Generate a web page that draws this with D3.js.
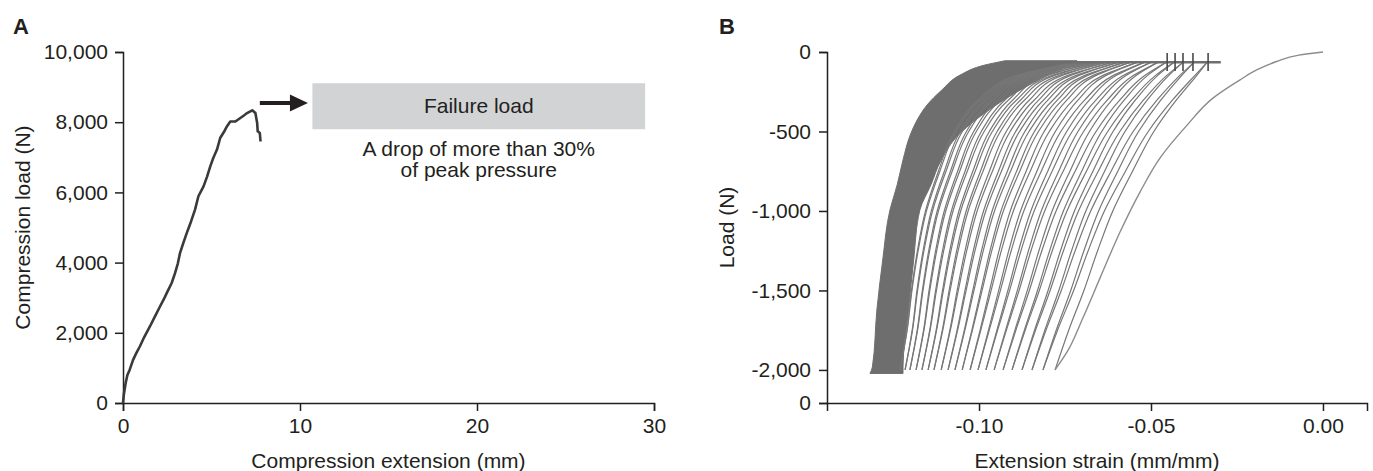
<!DOCTYPE html>
<html>
<head>
<meta charset="utf-8">
<script src="https://cdn.jsdelivr.net/npm/d3@7"></script>
<style>
	body { margin: 0; background: #fff; }
	svg text { font-family: "Liberation Sans", Arial, Helvetica, sans-serif; fill: #231f20; }
</style>
</head>
<body>
<div id="chart"></div>
<script>
const w = 1373;
const h = 471;

// ---- panel A : static compression test ----
const extensionMm = [0, 0.05, 0.15, 0.25, 0.38, 0.57, 0.75, 0.95, 1.2, 1.52,
	1.8, 2.09, 2.3, 2.47, 2.75, 2.94, 3.1, 3.22, 3.4, 3.6,
	3.85, 4.07, 4.26, 4.55, 4.75, 4.93, 5.1, 5.31, 5.49, 5.7,
	5.87, 6.06, 6.35, 6.63, 6.85, 7.01, 7.3, 7.48, 7.58, 7.61,
	7.73, 7.77];
const compressionN = [0, 250, 570, 800, 950, 1230, 1420, 1610, 1880, 2180,
	2460, 2750, 2950, 3130, 3420, 3700, 3980, 4270, 4550, 4840,
	5180, 5510, 5890, 6170, 6450, 6740, 6980, 7220, 7550, 7720,
	7880, 8020, 8020, 8120, 8200, 8260, 8340, 8260, 7980, 7740,
	7690, 7450];
const xTicksA = [0, 10, 20, 30];
const yTicksA = [0, 2000, 4000, 6000, 8000, 10000];
const boxLabel = "Failure load";
const noteLines = ["A drop of more than 30%", "of peak pressure"];

// ---- panel B : cyclic test ----
const firstLoadStrain = [0, -0.007, -0.0135, -0.019, -0.0241, -0.032, -0.0395, -0.0474,
	-0.0532, -0.059, -0.0648, -0.0698, -0.0744, -0.0779];
const firstLoadN = [0, -20, -60, -110, -175, -290, -460, -667,
	-881, -1132, -1421, -1673, -1887, -2000];

// strain where each cycle hits -2,000 N and where it comes back near the top
const cycleBottom = [-0.0779, -0.0814, -0.0846, -0.0875, -0.0904, -0.093, -0.0956,
	-0.098, -0.1003, -0.1026, -0.1049, -0.107, -0.109, -0.111,
	-0.1131, -0.1148, -0.1166, -0.1183, -0.1201, -0.1215, -0.123];
const cycleTop = [-0.0337, -0.0375, -0.0407, -0.0433, -0.0456, -0.048, -0.05,
	-0.052, -0.0541, -0.0561, -0.0578, -0.0596, -0.0613, -0.0631,
	-0.0645, -0.066, -0.0674, -0.0686, -0.0698, -0.0709, -0.0721];
// how much each cycle bends (0 = like right curves, 1 = like left envelope)
const cycleBow = [0, 0.05, 0.1, 0.15, 0.2, 0.27, 0.34, 0.41, 0.48, 0.55, 0.6,
	0.65, 0.7, 0.75, 0.8, 0.84, 0.88, 0.92, 0.95, 0.98, 1];

// curve shape of one cycle
const shapeLoadN = [-2000, -1750, -1500, -1250, -1000, -750, -500, -300, -150, -65];
const shapeRight = [0, 0.09, 0.19, 0.28, 0.38, 0.51, 0.65, 0.8, 0.93, 1];
const shapeLeft = [0, 0.04, 0.066, 0.1, 0.146, 0.22, 0.31, 0.45, 0.66, 1];

// solid dark band on the left: left and right edge at each load
const bandN = [-55, -82, -145, -239, -333, -428, -522, -679, -836, -994,
	-1308, -1623, -1981, -2022];
const bandLeft = [-0.0924, -0.0983, -0.1055, -0.1108, -0.1151, -0.118, -0.12, -0.1221, -0.1238, -0.1259,
	-0.128, -0.1297, -0.131, -0.1317];
const bandRight = [-0.0715, -0.074, -0.08, -0.088, -0.095, -0.101, -0.106, -0.111, -0.114, -0.1172,
	-0.119, -0.1205, -0.1221, -0.1221];

const topMarks = [-0.0453, -0.043, -0.0407, -0.0378, -0.0334];
const xTicksB = [-0.10, -0.05, 0.00];
const yTicksB = [0, -500, -1000, -1500, -2000];
const bBaseLoad = -2208; // where the bottom "0" sits on the broken axis

let svg = d3.select('#chart')
	.append('svg')
		.attr('width', w)
		.attr('height', h);

const ink = "#231f20";
const fontSize = 21;

function styleAxis(g) {
	g.attr("font-size", fontSize)
		.attr("font-family", '"Liberation Sans", Arial, sans-serif');
	g.select(".domain").attr("stroke", ink).attr("stroke-width", 1.5);
	g.selectAll(".tick line").attr("stroke", ink).attr("stroke-width", 1.5);
	g.selectAll(".tick text").attr("fill", ink);
}

// ================= panel A =================
let xA = d3.scaleLinear().domain([0, 30]).range([123, 654]);
let yA = d3.scaleLinear().domain([0, 10000]).range([403, 52]);

svg.append("g")
	.attr("transform", "translate(0," + yA(0) + ")")
	.call(d3.axisBottom(xA).tickValues(xTicksA).tickSize(8).tickPadding(7).tickFormat(d3.format("d")))
	.call(styleAxis);

svg.append("g")
	.attr("transform", "translate(" + xA(0) + ",0)")
	.call(d3.axisLeft(yA).tickValues(yTicksA).tickSize(8).tickPadding(7).tickFormat(d3.format(",")))
	.call(styleAxis);

let lineA = d3.line()
	.x((d, i) => xA(extensionMm[i]))
	.y((d, i) => yA(compressionN[i]));

svg.append("path")
	.attr("d", lineA(extensionMm))
	.attr("fill", "none")
	.attr("stroke", "#3a3a3a")
	.attr("stroke-width", 2.6)
	.attr("stroke-linejoin", "round");

// failure load annotation
const box = { x0: 10.7, x1: 29.5, y0: 9110, y1: 7800 };
svg.append("rect")
	.attr("x", xA(box.x0))
	.attr("y", yA(box.y0))
	.attr("width", xA(box.x1) - xA(box.x0))
	.attr("height", yA(box.y1) - yA(box.y0))
	.attr("fill", "#d1d3d4");

svg.append("text")
	.attr("x", xA((box.x0 + box.x1) / 2))
	.attr("y", yA(box.y1) - 16)
	.attr("text-anchor", "middle")
	.attr("font-size", fontSize)
	.text(boxLabel);

svg.selectAll(".note")
	.data(noteLines)
	.enter()
	.append("text")
	.attr("class", "note")
	.attr("x", xA((box.x0 + box.x1) / 2))
	.attr("y", (d, i) => yA(box.y1) + 27 + i * 21)
	.attr("text-anchor", "middle")
	.attr("font-size", fontSize)
	.text(d => d);

const arrow = { x0: 7.73, xHead: 9.43, x1: 10.45, y: 8547, half: 240 };
svg.append("line")
	.attr("x1", xA(arrow.x0))
	.attr("x2", xA(arrow.xHead) + 1)
	.attr("y1", yA(arrow.y))
	.attr("y2", yA(arrow.y))
	.attr("stroke", ink)
	.attr("stroke-width", 4);
svg.append("path")
	.attr("d", "M" + xA(arrow.xHead) + "," + yA(arrow.y + arrow.half)
		+ "L" + xA(arrow.x1) + "," + yA(arrow.y)
		+ "L" + xA(arrow.xHead) + "," + yA(arrow.y - arrow.half) + "Z")
	.attr("fill", ink);

svg.append("text")
	.attr("x", xA(15))
	.attr("y", 468)
	.attr("text-anchor", "middle")
	.attr("font-size", fontSize)
	.text("Compression extension (mm)");

svg.append("text")
	.attr("transform", "translate(29.5," + yA(5000) + ") rotate(-90)")
	.attr("text-anchor", "middle")
	.attr("font-size", fontSize)
	.text("Compression load (N)");

svg.append("text")
	.attr("x", 13)
	.attr("y", 34)
	.attr("font-size", 22)
	.attr("font-weight", "bold")
	.text("A");

// ================= panel B =================
let xB = d3.scaleLinear().domain([-0.1442, 0.0128]).range([827, 1367]);
let yB = d3.scaleLinear().domain([0, bBaseLoad]).range([52, 403]);

// dark band
let bandArea = d3.area()
	.y((d, i) => yB(bandN[i]))
	.x0((d, i) => xB(bandLeft[i]))
	.x1((d, i) => xB(bandRight[i]))
	.curve(d3.curveMonotoneY);

svg.append("path")
	.attr("d", bandArea(bandN))
	.attr("fill", "#6e6e6e")
	.attr("stroke", "#6e6e6e")
	.attr("stroke-width", 1);

// one curve between -2,000 N and the top for a given cycle
function cyclePoints(xb, xt, bow) {
	return shapeLoadN.map((n, k) => {
		const f = (1 - bow) * shapeRight[k] + bow * shapeLeft[k];
		return [xb + (xt - xb) * f, n];
	});
}

let curveB = d3.line()
	.x(d => xB(d[0]))
	.y(d => yB(d[1]))
	.curve(d3.curveMonotoneY);

let segments = [];
cycleBottom.forEach((b, i) => {
	// unloading
	segments.push(cyclePoints(b, cycleTop[i], cycleBow[i]));
	// next loading
	if (i + 1 < cycleBottom.length) {
		const bow = (cycleBow[i] + cycleBow[i + 1]) / 2;
		segments.push(cyclePoints(cycleBottom[i + 1], cycleTop[i], bow));
	}
});

svg.append("g")
	.selectAll("path")
	.data(segments)
	.enter()
	.append("path")
	.attr("d", d => curveB(d))
	.attr("fill", "none")
	.attr("stroke", "#777")
	.attr("stroke-width", 1.2);

// first loading from zero
svg.append("path")
	.attr("d", curveB(firstLoadStrain.map((s, i) => [s, firstLoadN[i]])))
	.attr("fill", "none")
	.attr("stroke", "#8c8c8c")
	.attr("stroke-width", 1.4);

// flat top and cycle marks
svg.append("line")
	.attr("x1", xB(-0.0924))
	.attr("x2", xB(-0.0297))
	.attr("y1", yB(-65))
	.attr("y2", yB(-65))
	.attr("stroke", "#6e6e6e")
	.attr("stroke-width", 2.5);

svg.append("g")
	.selectAll("line")
	.data(topMarks)
	.enter()
	.append("line")
	.attr("x1", d => xB(d))
	.attr("x2", d => xB(d))
	.attr("y1", yB(-6))
	.attr("y2", yB(-120))
	.attr("stroke", "#4a4a4a")
	.attr("stroke-width", 1.6);

svg.append("g")
	.attr("transform", "translate(0," + yB(bBaseLoad) + ")")
	.call(d3.axisBottom(xB).tickValues(xTicksB).tickSize(8).tickPadding(7).tickFormat(d => d.toFixed(2)))
	.call(styleAxis);

svg.append("g")
	.attr("transform", "translate(" + xB.range()[0] + ",0)")
	.call(d3.axisLeft(yB).tickValues(yTicksB.concat([bBaseLoad])).tickSize(8).tickPadding(8)
		.tickFormat(d => d === bBaseLoad ? "0" : d3.format(",")(d).replace("\u2212", "-")))
	.call(styleAxis);

svg.append("text")
	.attr("x", (xB.range()[0] + xB.range()[1]) / 2)
	.attr("y", 468)
	.attr("text-anchor", "middle")
	.attr("font-size", fontSize)
	.text("Extension strain (mm/mm)");

svg.append("text")
	.attr("transform", "translate(734," + (yB(0) + yB(bBaseLoad)) / 2 + ") rotate(-90)")
	.attr("text-anchor", "middle")
	.attr("font-size", fontSize)
	.text("Load (N)");

svg.append("text")
	.attr("x", 719)
	.attr("y", 34)
	.attr("font-size", 22)
	.attr("font-weight", "bold")
	.text("B");
</script>
</body>
</html>
